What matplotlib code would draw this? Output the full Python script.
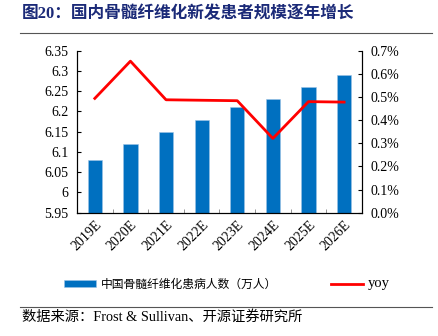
import matplotlib.pyplot as plt
import numpy as np
from matplotlib.ticker import FuncFormatter

plt.rcParams['font.family'] = ['Liberation Serif', 'Noto Sans CJK SC']

years = ['2019E', '2020E', '2021E', '2022E', '2023E', '2024E', '2025E', '2026E']
patients = [6.08, 6.12, 6.15, 6.18, 6.21, 6.23, 6.26, 6.29]
yoy = [0.494, 0.655, 0.488, 0.486, 0.484, 0.321, 0.480, 0.478]

fig = plt.figure(figsize=(4.39, 3.36), dpi=100)
ax = fig.add_axes([0.1754, 0.367, 0.649, 0.482])
ax2 = ax.twinx()

x = np.arange(len(years))
bars = ax.bar(x, patients, width=0.4, color='#0070C0', edgecolor='#9DC3E6',
              linewidth=0.4, label='中国骨髓纤维化患病人数（万人）', zorder=2)
line, = ax2.plot(x, yoy, color='#FF0000', lw=2, label='yoy', zorder=3)

ax.set_xlim(-0.5, 7.5)
ax.set_ylim(5.95, 6.35)
ax.set_yticks(np.arange(5.95, 6.351, 0.05))
ax.yaxis.set_major_formatter(FuncFormatter(lambda v, p: ('%.2f' % v).rstrip('0').rstrip('.')))
ax2.set_ylim(0, 0.7)
ax2.set_yticks(np.arange(0, 0.71, 0.1))
ax2.yaxis.set_major_formatter(FuncFormatter(lambda v, p: '%.1f%%' % v))

ax.set_xticks(x)
ax.set_xticklabels(years, rotation=45, ha='right', rotation_mode='anchor', fontsize=10)
ax.set_xticks(np.arange(0.5, 7, 1), minor=True)
ax.tick_params(axis='x', which='major', length=0, pad=4)
ax.tick_params(axis='x', which='minor', direction='in', length=3, color='#808080')
ax.tick_params(axis='y', direction='in', length=3, labelsize=10, pad=6)
ax2.tick_params(axis='y', direction='in', length=3, labelsize=10, pad=6)

ax.spines['top'].set_visible(False)
ax2.spines['top'].set_visible(False)
for a in (ax, ax2):
    for s in a.spines.values():
        s.set_linewidth(0.8)

leg = fig.legend([bars, line], [bars.get_label(), 'yoy'], loc='center left', ncol=2,
                 bbox_to_anchor=(0.132, 0.155), frameon=False, borderpad=0,
                 prop={'family': ['Liberation Serif', 'Noto Sans CJK SC'], 'size': 8.5},
                 handlelength=2.7, handleheight=0.5, columnspacing=4.6, handletextpad=0.4)
leg.get_texts()[1].set_fontsize(10.5)

fig.text(0.05, 0.958, '图20：国内骨髓纤维化新发患者规模逐年增长', fontsize=12,
         fontweight='bold', color='#1B2A78', va='center',
         family=['Liberation Serif', 'Noto Sans CJK SC'])
fig.add_artist(plt.Line2D([0.046, 0.984], [0.902, 0.902], color='#555555', lw=0.8))
fig.add_artist(plt.Line2D([0.046, 0.984], [0.086, 0.086], color='#555555', lw=0.8))
fig.text(0.05, 0.057, '数据来源：Frost & Sullivan、开源证券研究所', fontsize=10.3,
         va='center', family=['Liberation Serif', 'Noto Sans CJK SC'])

fig.savefig('out.png', dpi=100)
